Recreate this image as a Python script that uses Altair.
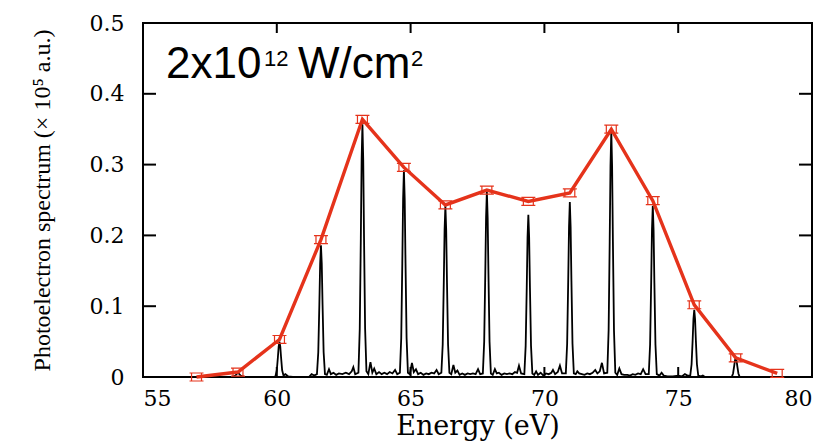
import altair as alt
import pandas as pd

# ---- data ----
HARMONIC_E = [57.0, 58.55, 60.1, 61.65, 63.2, 64.75, 66.3, 67.85, 69.4, 70.95, 72.5, 74.05, 75.6, 77.15, 78.7]
HARMONIC_Y = [0.0, 0.007, 0.053, 0.194, 0.364, 0.296, 0.243, 0.264, 0.248, 0.26, 0.35, 0.249, 0.102, 0.027, 0.005]

X_TICKS = [55, 60, 65, 70, 75, 80]
Y_TICKS = [0, 0.1, 0.2, 0.3, 0.4, 0.5]

TITLE_PARTS = ["2x10", "12", "W/cm", "2"]
X_TITLE = "Energy (eV)"
Y_TITLE = "Photoelectron spectrum (× 10⁵ a.u.)"

SPECTRUM = [
    (56.9, 0.0), (58.3, 0.0), (58.45, 0.002), (58.55, 0.006), (58.65, 0.002), (58.8, 0.0), (59.9, 0.0),
    (59.95, 0.001), (60.0, 0.0095), (60.04, 0.0275), (60.07, 0.043), (60.1, 0.05), (60.13, 0.043),
    (60.16, 0.0275), (60.2, 0.0095), (60.25, 0.002), (60.32, 0.004), (60.42, 0.001), (60.6, 0.0),
    (61.2, 0.0), (61.3, 0.004), (61.4, 0.002),
    (61.5, 0.004), (61.55, 0.035), (61.59, 0.102), (61.62, 0.160), (61.65, 0.186), (61.68, 0.160),
    (61.71, 0.102), (61.75, 0.035), (61.8, 0.004), (61.87, 0.003), (61.95, 0.011), (62.02, 0.004),
    (62.12, 0.006), (62.22, 0.003), (62.32, 0.005), (62.45, 0.004), (62.58, 0.006), (62.7, 0.004),
    (62.8, 0.008), (62.86, 0.014), (62.93, 0.004),
    (63.05, 0.006), (63.1, 0.068), (63.14, 0.196), (63.17, 0.307), (63.2, 0.357), (63.23, 0.307),
    (63.26, 0.196), (63.3, 0.068), (63.35, 0.008), (63.42, 0.004), (63.5, 0.021), (63.57, 0.006),
    (63.64, 0.012), (63.72, 0.004), (63.82, 0.007), (63.92, 0.004), (64.02, 0.006), (64.12, 0.004),
    (64.22, 0.007), (64.32, 0.005), (64.42, 0.01), (64.5, 0.004),
    (64.6, 0.006), (64.65, 0.055), (64.69, 0.161), (64.72, 0.251), (64.75, 0.292), (64.78, 0.251),
    (64.81, 0.161), (64.85, 0.055), (64.9, 0.006), (64.97, 0.004), (65.05, 0.02), (65.12, 0.007),
    (65.2, 0.011), (65.28, 0.004), (65.38, 0.006), (65.48, 0.003), (65.58, 0.005), (65.68, 0.004),
    (65.78, 0.006), (65.88, 0.005), (65.97, 0.01), (66.05, 0.004),
    (66.15, 0.006), (66.2, 0.046), (66.24, 0.133), (66.27, 0.208), (66.3, 0.242), (66.33, 0.208),
    (66.36, 0.133), (66.4, 0.046), (66.45, 0.006), (66.52, 0.004), (66.6, 0.017), (66.67, 0.006),
    (66.75, 0.009), (66.83, 0.003), (66.93, 0.005), (67.03, 0.003), (67.13, 0.005), (67.23, 0.004),
    (67.33, 0.005), (67.43, 0.004), (67.52, 0.011), (67.6, 0.004),
    (67.7, 0.005), (67.75, 0.05), (67.79, 0.144), (67.82, 0.225), (67.85, 0.262), (67.88, 0.225),
    (67.91, 0.144), (67.95, 0.05), (68.0, 0.005), (68.07, 0.003), (68.15, 0.011), (68.22, 0.005),
    (68.3, 0.006), (68.4, 0.003), (68.5, 0.005), (68.6, 0.004), (68.7, 0.005), (68.8, 0.004),
    (68.9, 0.007), (68.98, 0.006), (69.05, 0.016), (69.13, 0.005),
    (69.25, 0.004), (69.3, 0.044), (69.34, 0.126), (69.37, 0.197), (69.4, 0.229), (69.43, 0.197),
    (69.46, 0.126), (69.5, 0.044), (69.55, 0.005), (69.62, 0.003), (69.69, 0.008), (69.76, 0.003),
    (69.86, 0.006), (69.96, 0.002), (70.06, 0.005), (70.16, 0.004), (70.26, 0.006), (70.32, 0.01),
    (70.4, 0.004), (70.5, 0.007), (70.58, 0.016), (70.66, 0.005),
    (70.8, 0.005), (70.85, 0.047), (70.89, 0.136), (70.92, 0.212), (70.95, 0.247), (70.98, 0.212),
    (71.01, 0.136), (71.05, 0.047), (71.1, 0.005), (71.17, 0.004), (71.23, 0.008), (71.3, 0.005),
    (71.4, 0.004), (71.5, 0.003), (71.6, 0.005), (71.7, 0.004), (71.8, 0.006), (71.9, 0.01),
    (71.98, 0.005), (72.07, 0.008), (72.15, 0.02), (72.23, 0.005),
    (72.35, 0.006), (72.4, 0.066), (72.44, 0.191), (72.47, 0.298), (72.5, 0.347), (72.53, 0.298),
    (72.56, 0.191), (72.6, 0.066), (72.65, 0.006), (72.72, 0.003), (72.8, 0.012), (72.88, 0.004),
    (72.98, 0.003), (73.1, 0.003), (73.2, 0.002), (73.3, 0.004), (73.4, 0.003), (73.5, 0.005),
    (73.6, 0.004), (73.69, 0.011), (73.78, 0.004),
    (73.9, 0.004), (73.95, 0.046), (73.99, 0.133), (74.02, 0.208), (74.05, 0.242), (74.08, 0.208),
    (74.11, 0.133), (74.15, 0.046), (74.2, 0.004), (74.3, 0.002), (74.38, 0.006), (74.46, 0.002),
    (74.6, 0.001), (74.8, 0.001), (75.0, 0.002), (75.15, 0.001), (75.25, 0.004), (75.35, 0.002),
    (75.45, 0.002), (75.5, 0.018), (75.54, 0.052), (75.57, 0.082), (75.6, 0.095), (75.63, 0.082),
    (75.66, 0.052), (75.7, 0.018), (75.75, 0.002), (75.85, 0.001), (75.92, 0.002), (76.0, 0.0),
    (77.0, 0.0),
    (77.05, 0.005), (77.09, 0.015), (77.12, 0.023), (77.15, 0.027), (77.18, 0.023), (77.21, 0.015),
    (77.25, 0.005), (77.3, 0.0), (78.9, 0.0),
]

W, H = 669, 354
RED = "#e5331b"

spec_df = pd.DataFrame({"E": [p[0] for p in SPECTRUM], "I": [p[1] for p in SPECTRUM]})
spec_df["order"] = range(len(spec_df))
harm_df = pd.DataFrame({"E": HARMONIC_E, "I": HARMONIC_Y})

xs = alt.Scale(domain=[55, 80], nice=False, zero=False)
ys = alt.Scale(domain=[0, 0.5], nice=False)

x_axis = alt.Axis(
    values=X_TICKS, ticks=False, domain=False, grid=False,
    labelFont="DejaVu Serif", labelFontSize=22, labelPadding=11, labelColor="black",
    title=X_TITLE, titleFont="DejaVu Serif", titleFontSize=27, titleFontWeight="normal",
    titleColor="black", titlePadding=4,
)
y_axis = alt.Axis(
    values=Y_TICKS, format=".1~f", ticks=False, domain=False, grid=False,
    labelFont="DejaVu Serif", labelFontSize=22, labelPadding=19, labelColor="black",
    title=Y_TITLE, titleFont="Liberation Serif", titleFontSize=24, titleFontWeight="normal",
    titleColor="black", titlePadding=35,
)

X = lambda f: alt.X(f, scale=xs, axis=x_axis)
Y = lambda f: alt.Y(f, scale=ys, axis=y_axis)

spectrum = alt.Chart(spec_df).mark_line(color="black", strokeWidth=1.8).encode(
    x=X("E:Q"), y=Y("I:Q"), order="order:Q",
)

harm_line = alt.Chart(harm_df).mark_line(color=RED, strokeWidth=3.4).encode(
    x=X("E:Q"), y=Y("I:Q"),
)

MARKER = "M-0.71,-0.57H0.71V0.57H-0.71Z M-1,-0.57H1 M-1,0.57H1"
harm_pts = alt.Chart(harm_df).mark_point(
    shape=MARKER, filled=False, color=RED, strokeWidth=1.2, size=196, opacity=1
).encode(x=X("E:Q"), y=Y("I:Q"))

xt_df = pd.DataFrame({"E": X_TICKS})
yt_df = pd.DataFrame({"I": Y_TICKS})
tick_style = dict(color="black", strokeWidth=2)
xt_bottom = alt.Chart(xt_df).mark_rule(**tick_style).encode(
    x=X("E:Q"), y=alt.value(H), y2=alt.value(H - 10))
xt_top = alt.Chart(xt_df).mark_rule(**tick_style).encode(
    x=X("E:Q"), y=alt.value(0), y2=alt.value(10))
yt_left = alt.Chart(yt_df).mark_rule(**tick_style).encode(
    y=Y("I:Q"), x=alt.value(0), x2=alt.value(13))
yt_right = alt.Chart(yt_df).mark_rule(**tick_style).encode(
    y=Y("I:Q"), x=alt.value(W), x2=alt.value(W - 13))

def label(txt, x, y, size):
    return alt.Chart(pd.DataFrame({"t": [txt]})).mark_text(
        font="Liberation Sans", fontSize=size, align="left", baseline="alphabetic", color="black"
    ).encode(text="t:N", x=alt.value(x), y=alt.value(y))

title_layers = [
    label(TITLE_PARTS[0], 23, 55, 44),
    label(TITLE_PARTS[1], 121, 43, 22),
    label(TITLE_PARTS[2], 155, 55, 44),
    label(TITLE_PARTS[3], 268, 43, 22),
]

chart = alt.layer(
    spectrum, harm_line, harm_pts, xt_bottom, xt_top, yt_left, yt_right, *title_layers
).properties(
    width=W, height=H, autosize="none",
    padding={"left": 143, "top": 23, "right": 27, "bottom": 64},
    background="white",
).configure_view(stroke="black", strokeWidth=2)

chart.save("out.html", embed_options={"renderer": "svg", "actions": False})
